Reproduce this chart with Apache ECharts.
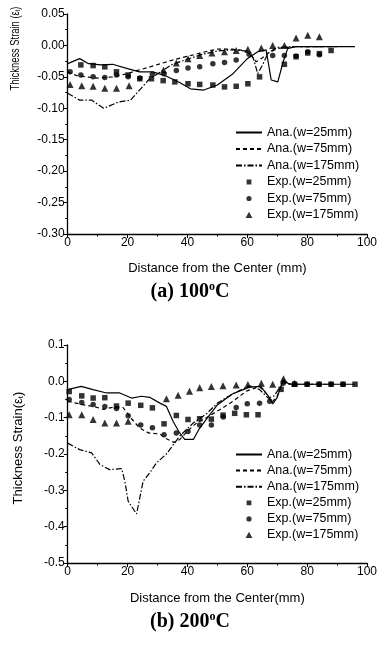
<!DOCTYPE html>
<html><head><meta charset="utf-8">
<script src="https://cdn.jsdelivr.net/npm/echarts@6/dist/echarts.min.js"></script>
<style>html,body{margin:0;padding:0;background:#fff}#c{width:380px;height:647px}</style>
</head><body><div id="c"></div>
<script>
// ---------- Chart (a) 100°C ----------
const ana25_a = [[0,-0.029],[4,-0.021],[7,-0.029],[11,-0.031],[15,-0.030],[20,-0.037],[24,-0.042],[28.5,-0.042],[33,-0.049],[37.4,-0.059],[41,-0.069],[45.5,-0.071],[50,-0.063],[55,-0.046],[60,-0.021],[63.5,-0.010],[66.3,-0.007],[68,-0.055],[70.2,-0.058],[72,-0.026],[73.5,-0.005],[76,-0.002],[96,-0.002]];
const ana75_a = [[0,-0.042],[3,-0.048],[6,-0.050],[10,-0.052],[15,-0.050],[20,-0.045],[23,-0.040],[27,-0.035],[31,-0.029],[36,-0.022],[42,-0.015],[46,-0.010],[50,-0.006],[55,-0.006],[59,-0.008],[61,-0.014],[63,-0.026],[65,-0.020],[67,-0.012],[70,-0.005],[75,-0.002],[90,-0.002]];
const ana175_a = [[0,-0.076],[4,-0.087],[8,-0.087],[12,-0.100],[17,-0.090],[21,-0.087],[24,-0.071],[27,-0.055],[31,-0.042],[35,-0.030],[40,-0.022],[45,-0.014],[50,-0.009],[55,-0.007],[60,-0.009],[62,-0.020],[63.5,-0.045],[65,-0.032],[67,-0.012],[70,-0.003],[75,-0.002],[85,-0.002]];
const exp25_a = [[4.4,-0.031],[8.5,-0.032],[12.4,-0.034],[16.3,-0.042],[20.2,-0.047],[24.1,-0.053],[28,-0.053],[31.9,-0.056],[35.8,-0.058],[40.2,-0.061],[44.1,-0.062],[48.5,-0.063],[52.4,-0.066],[56.3,-0.065],[60.2,-0.061],[64.1,-0.050],[72.4,-0.030],[76.3,-0.018],[80.2,-0.012],[84.1,-0.013],[88,-0.008]];
const exp75_a = [[0.8,-0.042],[4.4,-0.047],[8.5,-0.050],[12.4,-0.051],[16.3,-0.047],[20.2,-0.050],[24.1,-0.052],[28.3,-0.046],[32.2,-0.045],[36.3,-0.040],[40.2,-0.036],[44.1,-0.034],[48.5,-0.029],[52.4,-0.027],[56.3,-0.023],[60.6,-0.014],[68.5,-0.016],[72.4,-0.016],[76.3,-0.017],[80.2,-0.010],[84.1,-0.015]];
const exp175_a = [[0.8,-0.062],[4.7,-0.064],[8.5,-0.065],[12.4,-0.068],[16.3,-0.068],[20.5,-0.064],[32,-0.039],[36.3,-0.028],[40.2,-0.021],[44.1,-0.016],[48.2,-0.012],[52.4,-0.010],[56.3,-0.008],[60.2,-0.006],[64.7,-0.004],[68.5,0.000],[72.4,0.000],[76.3,0.012],[80.2,0.016],[84.1,0.014]];

// ---------- Chart (b) 200°C ----------
const ana25_b = [[0,-0.023],[4.5,-0.014],[8.5,-0.023],[13,-0.032],[17.4,-0.032],[21.3,-0.046],[24.7,-0.041],[27.4,-0.044],[30.8,-0.060],[33,-0.069],[35.2,-0.110],[37.4,-0.142],[39.1,-0.160],[42,-0.160],[44,-0.130],[46.3,-0.105],[50,-0.065],[55,-0.035],[60.8,-0.016],[64.5,-0.014],[67,-0.040],[68.5,-0.062],[70,-0.045],[72,0.005],[74,-0.008],[96,-0.008]];
const ana75_b = [[0,-0.055],[5,-0.064],[8.5,-0.069],[12,-0.077],[15.8,-0.070],[18.5,-0.072],[21,-0.100],[24,-0.128],[27,-0.142],[30.8,-0.145],[33,-0.158],[35.5,-0.168],[37.5,-0.160],[40,-0.137],[43,-0.115],[46.3,-0.100],[50.8,-0.078],[55.2,-0.055],[59.7,-0.027],[64,-0.014],[66,-0.030],[68.3,-0.058],[70,-0.040],[72,-0.003],[75,-0.008],[90,-0.008]];
const ana175_b = [[0,-0.170],[4,-0.188],[8,-0.197],[10.8,-0.229],[14,-0.243],[18,-0.240],[19.1,-0.275],[20.2,-0.330],[23,-0.365],[24.1,-0.320],[25.2,-0.275],[27.4,-0.252],[29.7,-0.224],[33,-0.200],[37.4,-0.151],[41.9,-0.115],[46.3,-0.090],[50,-0.060],[55,-0.035],[60.8,-0.012],[64,-0.022],[67,-0.046],[69,-0.040],[72,-0.003],[75,-0.008],[85,-0.008]];
const exp25_b = [[0.5,-0.028],[4.7,-0.040],[8.5,-0.046],[12.4,-0.045],[16.3,-0.068],[20.2,-0.060],[24.4,-0.066],[28.3,-0.073],[32.2,-0.117],[36.3,-0.094],[40.2,-0.105],[44.1,-0.103],[48,-0.104],[51.9,-0.093],[55.8,-0.088],[59.7,-0.092],[63.6,-0.092],[71.3,-0.022],[75.8,-0.008],[80,-0.008],[84,-0.008],[88,-0.008],[92,-0.008],[96,-0.008]];
const exp75_b = [[0.5,-0.050],[4.7,-0.058],[8.5,-0.064],[12.4,-0.069],[16.3,-0.075],[20.2,-0.095],[24.4,-0.120],[28.3,-0.128],[32.2,-0.147],[36.3,-0.142],[40.2,-0.138],[44.1,-0.120],[48,-0.120],[52,-0.098],[56.3,-0.072],[60,-0.062],[64.1,-0.060],[67.5,-0.055],[72,-0.005],[75.8,-0.007],[80,-0.008],[84,-0.008],[88,-0.008],[92,-0.008]];
const exp175_b = [[0.5,-0.092],[4.7,-0.092],[8.5,-0.105],[12.4,-0.115],[16.3,-0.115],[20.2,-0.110],[33,-0.048],[36.9,-0.038],[40.7,-0.027],[44.1,-0.018],[48,-0.014],[51.9,-0.012],[56.3,-0.010],[60.2,-0.009],[64.7,-0.005],[68.5,-0.008],[72.1,0.007],[75.8,-0.005]];

const names = ['Ana.(w=25mm)','Ana.(w=75mm)','Ana.(w=175mm)','Exp.(w=25mm)','Exp.(w=75mm)','Exp.(w=175mm)'];
const xTicks = {min:0, max:100, interval:20};
const yA = {min:-0.30, max:0.05, interval:0.05};
const yB = {min:-0.5, max:0.1, interval:0.1};

const FONT = 'Liberation Sans';
const chart = echarts.init(document.getElementById('c'), null, {renderer:'canvas'});

function xAxis(gi, name, gap){
  return {gridIndex:gi, type:'value', min:xTicks.min, max:xTicks.max, interval:xTicks.interval,
    name:name, nameLocation:'middle', nameGap:gap,
    nameTextStyle:{color:'#000', fontFamily:FONT, fontSize:13},
    axisLine:{onZero:false, lineStyle:{color:'#000', width:1.3}},
    axisTick:{show:true, length:4, lineStyle:{color:'#000'}},
    minorTick:{show:true, splitNumber:2, length:2.5, lineStyle:{color:'#000'}},
    axisLabel:{color:'#000', fontFamily:FONT, fontSize:12, margin:3},
    splitLine:{show:false}};
}
function yAxis(gi, s, dec){
  return {gridIndex:gi, type:'value', min:s.min, max:s.max, interval:s.interval,
    axisLine:{show:true, onZero:false, lineStyle:{color:'#000', width:1.3}},
    axisTick:{show:true, length:4, lineStyle:{color:'#000'}},
    minorTick:{show:true, splitNumber:2, length:2.5, lineStyle:{color:'#000'}},
    axisLabel:{color:'#000', fontFamily:FONT, fontSize:12, margin:3,
      formatter:v=>v.toFixed(dec)},
    splitLine:{show:false}};
}
function lineS(name, data, gi, type){
  return {name, type:'line', data, xAxisIndex:gi, yAxisIndex:gi, symbol:'none', smooth:false,
    lineStyle:{color:'#000', width:1.2, type:type}, itemStyle:{color:'#000'}, z:3, animation:false};
}
function scatS(name, data, gi, sym, size){
  return {name, type:'scatter', data, xAxisIndex:gi, yAxisIndex:gi, symbol:sym, symbolSize:size,
    itemStyle:{color:'#000'}, z:4, animation:false};
}
const DASH=[4,3], DASHDOT=[6,2,1.5,2];

// legend icons: padded paths so they keep their shape inside the 26x7 icon box
const PAD = 'M0,0L0.001,0L0,0.001Z M26,7L25.999,7L26,6.999Z ';
const ICON_SQ = 'path://' + PAD + 'M10.6,1.1L15.4,1.1L15.4,5.9L10.6,5.9Z';
const ICON_CI = 'path://' + PAD + 'M15.6,3.5A2.6,2.6,0,1,1,10.4,3.5A2.6,2.6,0,1,1,15.6,3.5Z';
const ICON_TR = 'path://' + PAD + 'M13,0.3L16.4,6.5L9.6,6.5Z';

function legend(top, gap){
  return {orient:'vertical', left:230, top:top, itemWidth:26, itemHeight:7, itemGap:gap,
    textStyle:{color:'#000', fontFamily:FONT, fontSize:12.5, lineHeight:13},
    selectedMode:false,
    data:[
      {name:names[0], itemStyle:{opacity:0}},
      {name:names[1], itemStyle:{opacity:0}},
      {name:names[2], itemStyle:{opacity:0}},
      {name:names[3], icon:ICON_SQ},
      {name:names[4], icon:ICON_CI},
      {name:names[5], icon:ICON_TR}
    ]};
}

const yNameStyle = {fontFamily:FONT, fontSize:13, fill:'#000'};
const subStyle = {fontFamily:FONT, fontSize:8, fill:'#000', padding:[6,0,0,0]};
const titleT = {fontFamily:'Liberation Serif', fontWeight:'bold', fontSize:20, fill:'#000'};
const titleO = {fontFamily:'Liberation Serif', fontWeight:'bold', fontSize:12, fill:'#000', padding:[0,0,10,0]};

chart.setOption({
  animation:false,
  backgroundColor:'#fff',
  grid:[{left:67.7, top:14, width:300, height:220},
        {left:67.7, top:345, width:299.3, height:218}],
  xAxis:[xAxis(0,'Distance from the Center (mm)',28), xAxis(1,'Distance from the Center(mm)',29)],
  yAxis:[yAxis(0,yA,2), yAxis(1,yB,1)],
  legend:[legend(121, 3.5), legend(443, 3.1)],
  series:[
    lineS(names[0], ana25_a, 0, 'solid'),
    lineS(names[1], ana75_a, 0, DASH),
    lineS(names[2], ana175_a, 0, DASHDOT),
    scatS(names[3], exp25_a, 0, 'rect', 5.5),
    scatS(names[4], exp75_a, 0, 'circle', 5.5),
    scatS(names[5], exp175_a, 0, 'triangle', 7),
    lineS(names[0], ana25_b, 1, 'solid'),
    lineS(names[1], ana75_b, 1, DASH),
    lineS(names[2], ana175_b, 1, DASHDOT),
    scatS(names[3], exp25_b, 1, 'rect', 5.5),
    scatS(names[4], exp75_b, 1, 'circle', 5.5),
    scatS(names[5], exp175_b, 1, 'triangle', 7)
  ],
  graphic:[
    {type:'text', x:15, y:48.5, rotation:Math.PI/2, scaleX:0.72, style:{
      text:'{a|Thickness Strain (ε}{s|t}{a|)}', align:'center', verticalAlign:'middle',
      rich:{a:yNameStyle, s:subStyle}}},
    {type:'text', x:18, y:448, rotation:Math.PI/2, style:{
      text:'{a|Thickness Strain(ε}{s|t}{a|)}', align:'center', verticalAlign:'middle',
      rich:{a:yNameStyle, s:subStyle}}},
    {type:'text', x:190, y:292, style:{
      text:'{t|(a) 100}{o|o}{t|C}', align:'center', verticalAlign:'middle',
      rich:{t:titleT, o:titleO}}},
    {type:'text', x:190, y:622, style:{
      text:'{t|(b) 200}{o|o}{t|C}', align:'center', verticalAlign:'middle',
      rich:{t:titleT, o:titleO}}}
  ]
});
</script></body></html>
